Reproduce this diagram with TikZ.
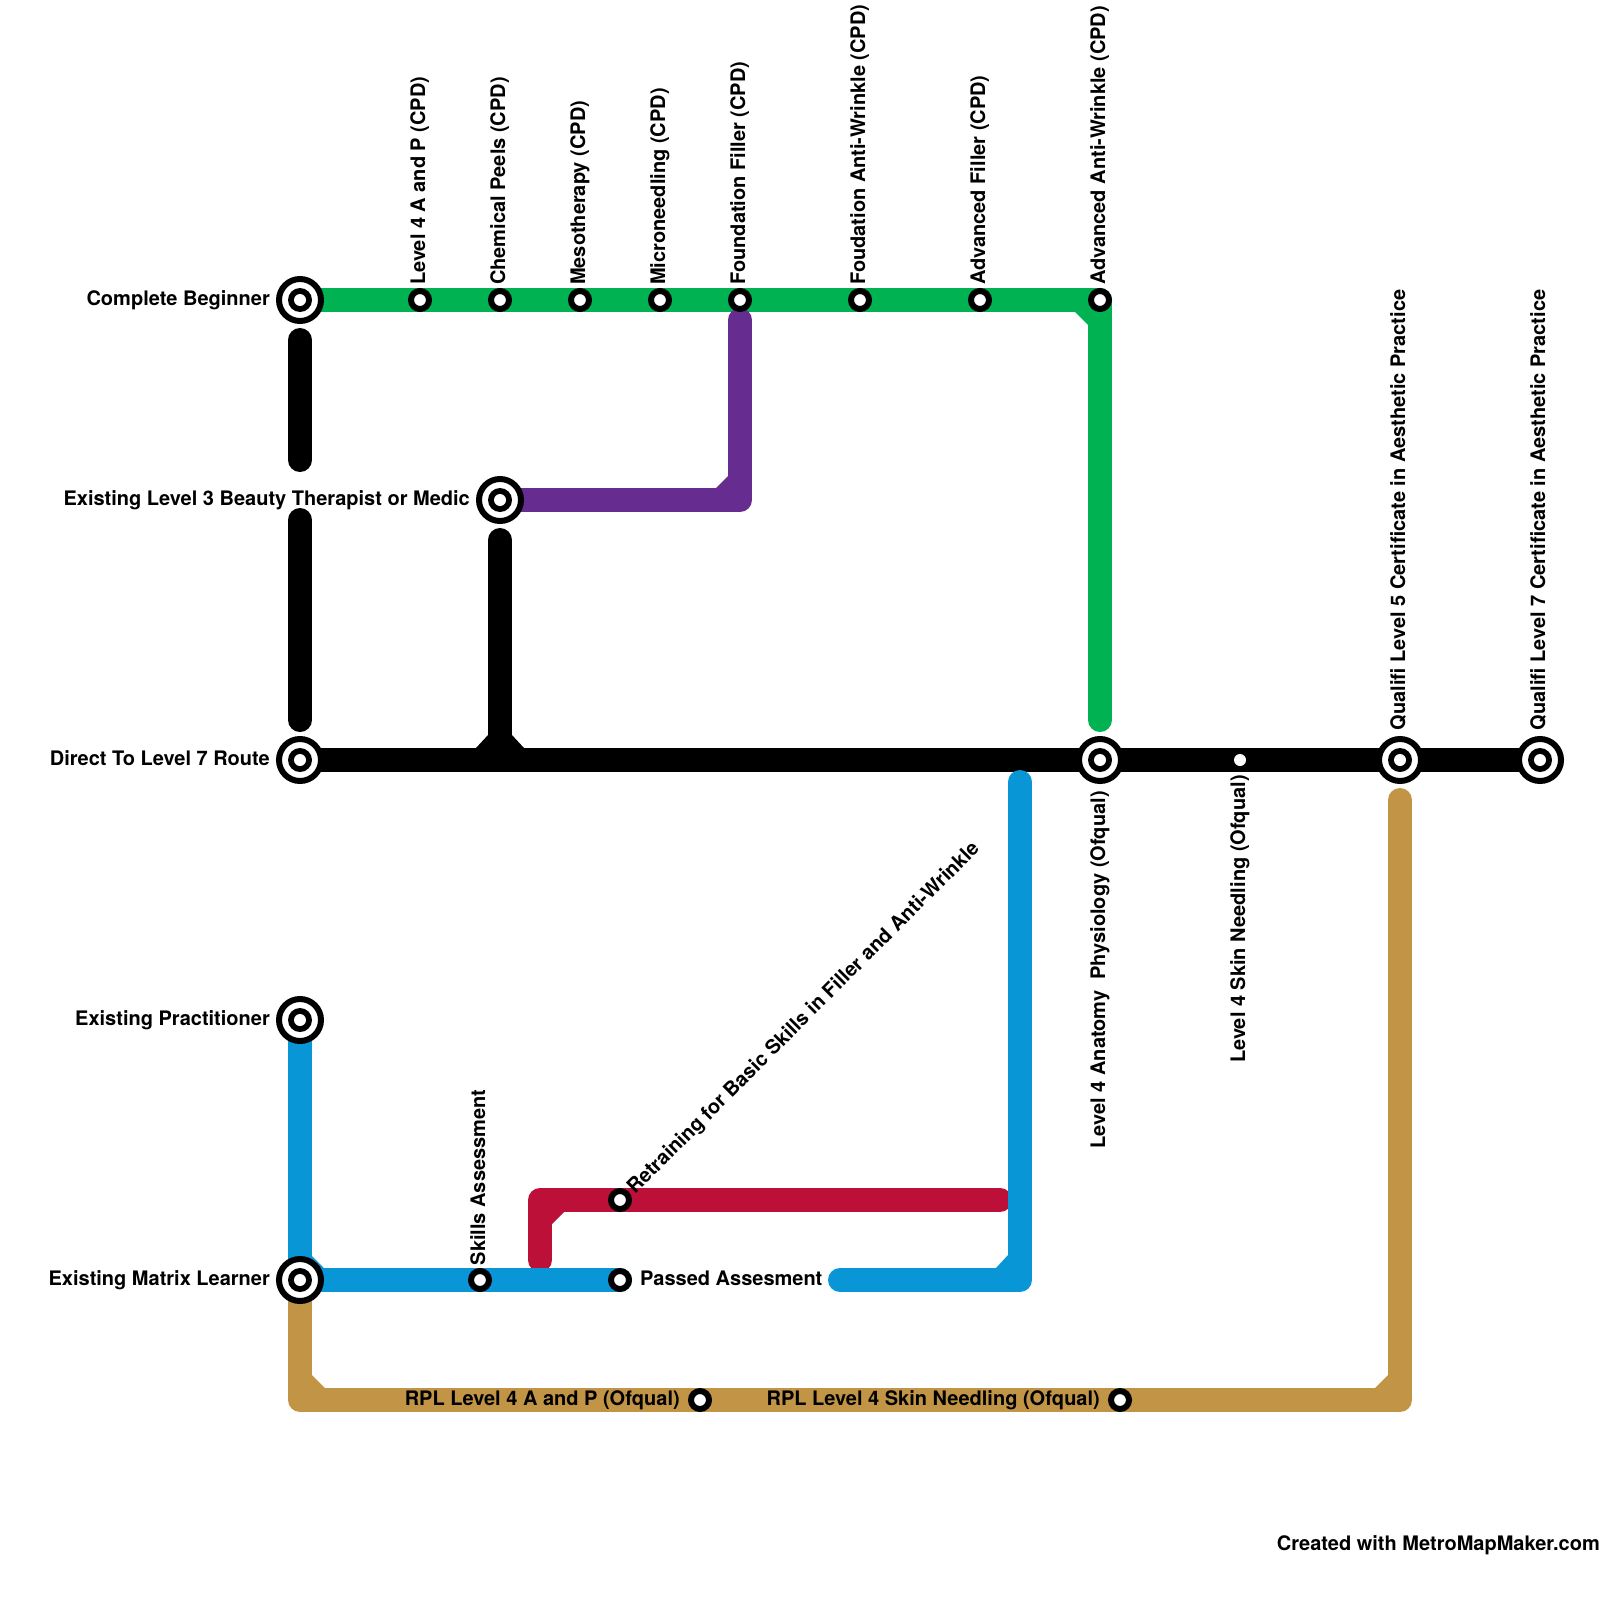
\documentclass[tikz,border=0pt]{standalone}
\usepackage{fontspec}
\setmainfont{TeX Gyre Heros}
\definecolor{mgreen}{HTML}{00B251}
\definecolor{mpurple}{HTML}{662C90}
\definecolor{mblue}{HTML}{0896D7}
\definecolor{mred}{HTML}{BD1038}
\definecolor{mgold}{HTML}{C29546}
\tikzset{
  x=1pt,y=-1pt,
  mline/.style={line width=24pt,line cap=round,line join=round},
  bigstn/.style={circle,draw=black,fill=white,line width=6pt,minimum size=42pt,inner sep=0pt,
    path picture={\fill[black] (path picture bounding box.center) circle (12pt);
                  \fill[white] (path picture bounding box.center) circle (6pt);}},
  smallstn/.style={circle,draw=black,fill=white,line width=6pt,minimum size=18pt,inner sep=0pt},
  dotstn/.style={circle,fill=white,minimum size=12pt,inner sep=0pt},
  lbl/.style={font=\fontsize{20}{24}\selectfont\bfseries,inner sep=0pt,text=black},
  lleft/.style={lbl,anchor=base east},
  lright/.style={lbl,anchor=base west},
  lup/.style={lbl,anchor=base west,rotate=90},
  ldown/.style={lbl,anchor=base east,rotate=90},
  ldiag/.style={lbl,anchor=base west,rotate=45},
}
\begin{document}
\begin{tikzpicture}
\useasboundingbox (0,0) rectangle (1600,1600);
% junction coordinates and free line ends
\coordinate (gc) at (1100,300);
\coordinate (ge) at (1100,720);
\coordinate (k1a) at (300,340);
\coordinate (k1b) at (300,460);
\coordinate (k2a) at (300,520);
\coordinate (k2b) at (300,720);
\coordinate (k3a) at (500,540);
\coordinate (k3b) at (500,760);
\coordinate (pc) at (740,500);
\coordinate (pe) at (740,320);
\coordinate (rc) at (540,1200);
\coordinate (ra) at (540,1260);
\coordinate (rb) at (1000,1200);
\coordinate (bt) at (1020,782);
\coordinate (bc) at (1020,1280);
\coordinate (be) at (840,1280);
\coordinate (au1) at (300,1400);
\coordinate (au2) at (1400,1400);
\coordinate (aue) at (1400,800);
\path
  (300,300) coordinate (sBeg)
  (500,500) coordinate (sL3)
  (300,760) coordinate (sDir)
  (300,1020) coordinate (sPra)
  (300,1280) coordinate (sMat)
  (1100,760) coordinate (sAna)
  (1400,760) coordinate (sQ5)
  (1540,760) coordinate (sQ7)
  (620,1280) coordinate (sPas);
% lines
\draw[mline,mred] (ra) -- (rc) -- (rb);
\fill[mred] (rc) ++(12,24) -- ++(12,-12) -- ++(-12,0) -- cycle;
\draw[mline,mgreen] (sBeg) -- (gc) -- (ge);
\fill[mgreen] (gc) ++(-25,12) -- ++(13,13) -- ++(0,-13) -- cycle;
\draw[mline,black] (k1a) -- (k1b);
\draw[mline,black] (k2a) -- (k2b);
\draw[mline,black] (k3a) -- (k3b);
\draw[mline,black] (sDir) -- (sQ7);
\fill[black] (k3b) ++(-24,-12) -- ++(12,-13) -- ++(24,0) -- ++(12,13) -- cycle;
\draw[mline,mpurple] (sL3) -- (pc) -- (pe);
\fill[mpurple] (pc) ++(-24,-12) -- ++(12,-12) -- ++(0,12) -- cycle;
\draw[mline,mgold] (sMat) -- (au1) -- (au2) -- (aue);
\fill[mgold] (au1) ++(12,-25) -- ++(13,13) -- ++(-13,0) -- cycle;
\fill[mgold] (au2) ++(-25,-12) -- ++(13,-13) -- ++(0,13) -- cycle;
\draw[mline,mblue] (sPra) -- (sMat) -- (sPas);
\fill[mblue] (sMat) ++(12,-24) -- ++(12,12) -- ++(-12,0) -- cycle;
\draw[mline,mblue] (bt) -- (bc) -- (be);
\fill[mblue] (bc) ++(-24,-12) -- ++(12,-13) -- ++(0,13) -- cycle;
% big stations
\node[bigstn] (nBeg) at (sBeg) {};
\node[bigstn] (nL3) at (sL3) {};
\node[bigstn] (nDir) at (sDir) {};
\node[bigstn] (nPra) at (sPra) {};
\node[bigstn] (nMat) at (sMat) {};
\node[bigstn] (nAna) at (sAna) {};
\node[bigstn] (nQ5) at (sQ5) {};
\node[bigstn] (nQ7) at (sQ7) {};
% small stations
\node[smallstn] (s1) at (420,300) {};
\node[smallstn] (s2) at (500,300) {};
\node[smallstn] (s3) at (580,300) {};
\node[smallstn] (s4) at (660,300) {};
\node[smallstn] (s5) at (740,300) {};
\node[smallstn] (s6) at (860,300) {};
\node[smallstn] (s7) at (980,300) {};
\node[smallstn] (s8) at (1100,300) {};
\node[smallstn] (s9) at (480,1280) {};
\node[smallstn] (s10) at (620,1280) {};
\node[smallstn] (s11) at (620,1200) {};
\node[smallstn] (s12) at (700,1400) {};
\node[smallstn] (s13) at (1120,1400) {};
\node[dotstn] (s14) at (1240,760) {};
% labels
\node[lleft] (tBeg) at (270,305) {Complete Beginner};
\node[lleft] (tL3) at (470,505) {Existing Level 3 Beauty Therapist or Medic};
\node[lleft] (tDir) at (270,765) {Direct To Level 7 Route};
\node[lleft] (tPra) at (270,1025) {Existing Practitioner};
\node[lleft] (tMat) at (270,1285) {Existing Matrix Learner};
\node[lright] (tPas) at (640,1285) {Passed Assesment};
\node[lleft] (tR1) at (680,1405) {RPL Level 4 A and P (Ofqual)};
\node[lleft] (tR2) at (1100,1405) {RPL Level 4 Skin Needling (Ofqual)};
\node[lup] (t1) at (425,285) {Level 4 A and P (CPD)};
\node[lup] (t2) at (505,285) {Chemical Peels (CPD)};
\node[lup] (t3) at (585,285) {Mesotherapy (CPD)};
\node[lup] (t4) at (665,285) {Microneedling (CPD)};
\node[lup] (t5) at (745,285) {Foundation Filler (CPD)};
\node[lup] (t6) at (865,285) {Foudation Anti-Wrinkle (CPD)};
\node[lup] (t7) at (985,285) {Advanced Filler (CPD)};
\node[lup] (t8) at (1105,285) {Advanced Anti-Wrinkle (CPD)};
\node[lup] (t9) at (1405,730.5) {Qualifi Level 5 Certificate in Aesthetic Practice};
\node[lup] (t10) at (1545,730.5) {Qualifi Level 7 Certificate in Aesthetic Practice};
\node[lup] (t11) at (485,1265.5) {Skills Assessment};
\node[ldown] (t12) at (1105,791) {Level 4 Anatomy\ \ Physiology (Ofqual)};
\node[ldown] (t13) at (1245,775) {Level 4 Skin Needling (Ofqual)};
\node[ldiag] (t14) at (635,1195) {Retraining for Basic Skills in Filler and Anti-Wrinkle};
\node[lleft] (tC) at (1600,1550) {Created with MetroMapMaker.com};
\end{tikzpicture}
\end{document}
